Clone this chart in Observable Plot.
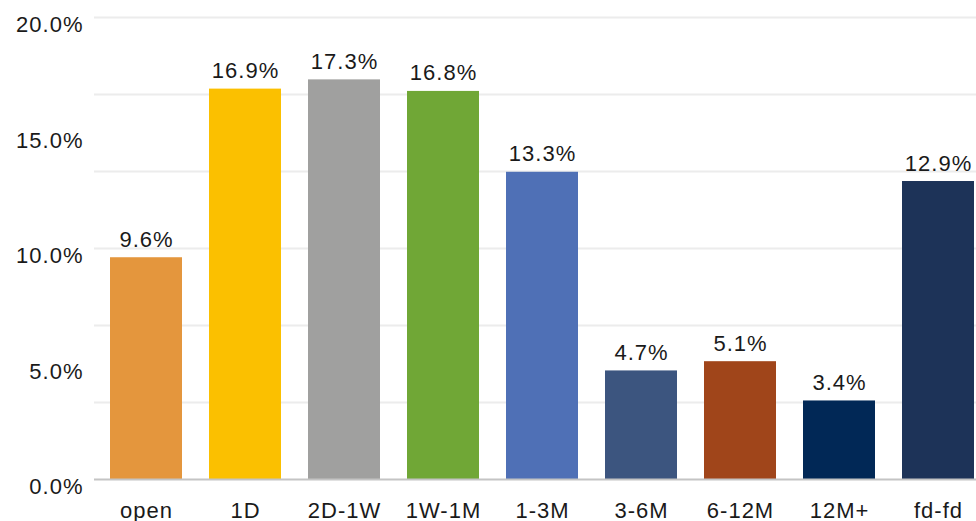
<!DOCTYPE html>
<html>
<head>
<meta charset="utf-8">
<script src="https://cdn.jsdelivr.net/npm/d3@7"></script>
<script src="https://cdn.jsdelivr.net/npm/@observablehq/plot@0.6"></script>
<style>
  html, body { margin: 0; padding: 0; background: #fff; }
  #chart svg { display: block; overflow: visible; }
  #chart svg text { letter-spacing: 1px; }
</style>
</head>
<body>
<div id="chart"></div>
<script>
// Share of each bucket, in percent
const categories = ["open", "1D", "2D-1W", "1W-1M", "1-3M", "3-6M", "6-12M", "12M+", "fd-fd"];
const shares = [9.6, 16.9, 17.3, 16.8, 13.3, 4.7, 5.1, 3.4, 12.9];
const barColors = ["#E4963D", "#FBC000", "#A0A09F", "#70A736", "#4F70B6", "#3C557F", "#A0451A", "#012856", "#1D3358"];
const yTickLabels = [0, 5, 10, 15, 20];
const gridLines = [0, 20 / 6, 40 / 6, 10, 80 / 6, 100 / 6, 20];

const data = categories.map((c, i) => ({ category: c, share: shares[i], color: barColors[i] }));
const fmt = v => v.toFixed(1) + "%";
const font = "'Liberation Sans', Arial, Helvetica, sans-serif";

const chart = Plot.plot({
  width: 976,
  height: 521,
  marginTop: 17,
  marginBottom: 42,
  marginLeft: 94,
  marginRight: 0,
  style: { fontFamily: font, fontSize: "22px", color: "#1a1a1a", background: "#fff" },
  // the last band runs past the right edge of the frame
  x: { domain: categories, range: [94, 990], paddingInner: 0.276, paddingOuter: 0.138, label: null },
  y: { domain: [0, 20], label: null },
  marks: [
    Plot.ruleY(gridLines.slice(1), { stroke: "#ececec", strokeWidth: 2 }),
    Plot.barY(data, { x: "category", y: "share", fill: "color" }),
    Plot.ruleY([0], { stroke: "#c4c4c4", strokeWidth: 2 }),
    Plot.text(data, {
      x: "category", y: "share", text: d => fmt(d.share),
      lineAnchor: "bottom", dy: -11, fontSize: 22, fill: "#1a1a1a"
    }),
    Plot.axisY(yTickLabels, {
      tickSize: 0, tickPadding: 11, tickFormat: fmt, lineAnchor: "top", dy: -1,
      fontSize: 22, fill: "#1a1a1a", label: null
    }),
    Plot.axisX({
      tickSize: 0, tickPadding: 23, fontSize: 22, fill: "#1a1a1a", label: null
    })
  ]
});
document.getElementById("chart").appendChild(chart);
</script>
</body>
</html>
